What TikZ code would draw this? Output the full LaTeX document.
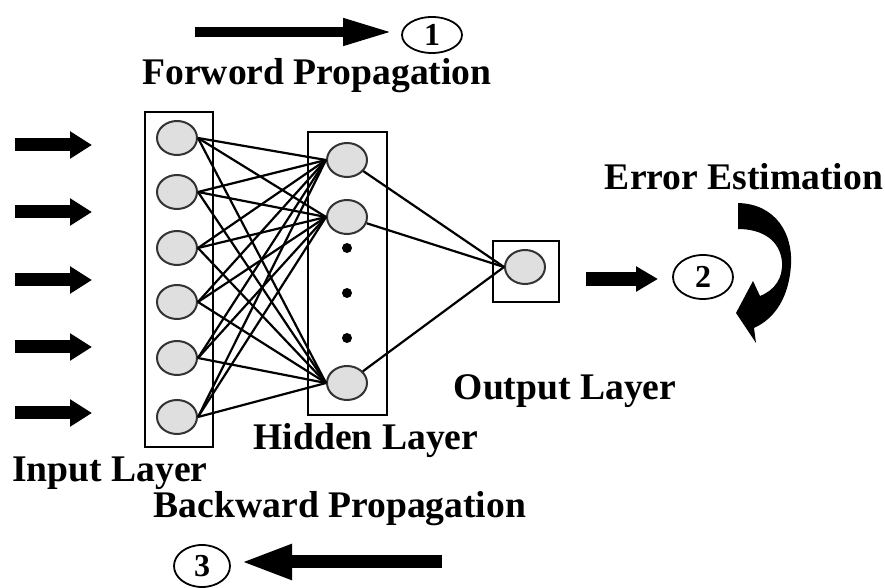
\documentclass[tikz,border=0pt]{standalone}
\usepackage{fontspec}
\setmainfont{Liberation Serif}
\usetikzlibrary{shapes.geometric,arrows.meta}
\begin{document}
\begin{tikzpicture}[x=0.5pt,y=-0.5pt,
  neuron/.style={ellipse,draw=black!80,line width=1pt,fill=gray!25,minimum width=20pt,minimum height=17pt,inner sep=0pt},
  layerbox/.style={draw,line width=1pt,inner sep=0pt},
  lbl/.style={font=\bfseries\fontsize{18.8}{21}\selectfont,anchor=base,inner sep=0pt},
  numc/.style={ellipse,draw,line width=0.9pt,inner sep=0pt,font=\bfseries\fontsize{16}{18}\selectfont},
  link/.style={line width=1.1pt},
  inarrow/.style={line width=6.5pt,-{Triangle[length=11pt,width=13pt]}},
  fwdarrow/.style={line width=5pt,-{Triangle[length=25pt,width=12.5pt]}},
  backarrow/.style={line width=6.5pt,-{Triangle[length=26pt,width=16pt]}},
  outarrow/.style={line width=7pt,-{Triangle[length=11pt,width=12pt]}},
  dotmark/.style={circle,fill,inner sep=0pt,minimum size=5pt}
]
\useasboundingbox (0,0) rectangle (885,588);

% layer boxes
\node[layerbox,minimum width=34pt,minimum height=167.5pt] (inbox) at (179,279.5) {};
\node[layerbox,minimum width=39.5pt,minimum height=141.5pt] (hidbox) at (347.5,273.5) {};
\node[layerbox,minimum width=33pt,minimum height=30.5pt] (outbox) at (526,271.5) {};

% neurons
\foreach \n/\y in {1/138,2/192,3/248,4/302,5/358,6/417}
  \node[neuron] (i\n) at (177,\y) {};
\node[neuron] (h1) at (347,160) {};
\node[neuron] (h2) at (347,217) {};
\node[neuron] (h3) at (347,383) {};
\node[neuron] (o) at (525,267) {};

\node[dotmark] (d1) at (347,248) {};
\node[dotmark] (d2) at (347,293) {};
\node[dotmark] (d3) at (347,338) {};

% connections
\foreach \i in {1,...,6}
  \foreach \h in {1,2,3}
    \draw[link] (i\i.east) -- (h\h.west);
\foreach \h in {1,2,3}
  \draw[link] (h\h) -- (o.west);

% input arrows
\foreach \k/\y in {1/145,2/212,3/280,4/347,5/413}{
  \coordinate (as\k) at (15,\y);
  \coordinate (ae\k) at (92,\y);
  \draw[inarrow] (as\k) -- (ae\k);
}

% numbered circles
\node[numc,minimum width=30pt,minimum height=18pt] (c1) at (432,35) {1};
\node[numc,minimum width=30pt,minimum height=22pt] (c2) at (703,277) {2};
\node[numc,minimum width=28pt,minimum height=21pt] (c3) at (202,566) {3};

% propagation arrows
\coordinate (fs) at (195,32);
\coordinate (fe) at (393,32);
\draw[fwdarrow] (fs) -- (fe);
\coordinate (bs) at (442,562);
\coordinate (be) at (240,562);
\draw[backarrow] (bs) -- (be);
\coordinate (os) at (586,279);
\coordinate (oe) at (658,279);
\draw[outarrow] (os) -- (oe);

% curved error arrow
\fill (738,203) .. controls (776,204) and (793,234) .. (791,265)
  .. controls (789,296) and (776,318) .. (754,328)
  -- (756,343) -- (736,313) -- (753,281) -- (760,296)
  .. controls (775,290) and (783,278) .. (782,262)
  .. controls (780,240) and (762,229) .. (738,229) -- cycle;

% labels
\node[lbl] (tfwd) at (317,85) {Forword Propagation};
\node[lbl] (terr) at (744,190) {Error Estimation};
\node[lbl] (tout) at (565,400) {Output Layer};
\node[lbl] (thid) at (366,450) {Hidden Layer};
\node[lbl] (tin) at (110,482) {Input Layer};
\node[lbl] (tback) at (340,518) {Backward Propagation};
\end{tikzpicture}
\end{document}
